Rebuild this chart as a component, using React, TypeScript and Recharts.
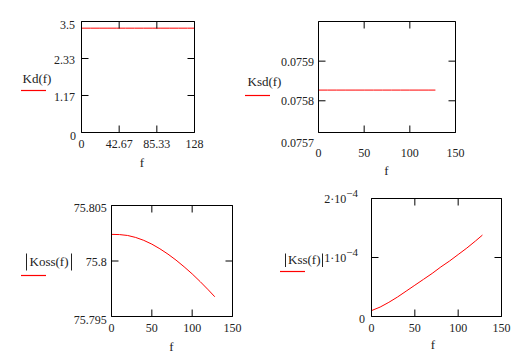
import React from "react";
import { LineChart, Line, XAxis, YAxis } from "recharts";

const W = 526;
const H = 353;
const FONT = '"Liberation Serif", "Times New Roman", serif';
const TEXT = "#222";
const RED = "#ff0000";

// f samples shared by all four plots
const freq = [0, 10, 20, 30, 40, 50, 60, 70, 80, 90, 100, 110, 120, 128];

const kdValues = [3.29, 3.29, 3.29, 3.29, 3.29, 3.29, 3.29, 3.29, 3.29, 3.29, 3.29, 3.29, 3.29, 3.29];
const ksdValues = [
  0.075827, 0.075827, 0.075827, 0.075827, 0.075827, 0.075827, 0.075827,
  0.075827, 0.075827, 0.075827, 0.075827, 0.075827, 0.075827, 0.075827,
];
const kossValues = [
  75.8024, 75.80238, 75.8023, 75.80212, 75.80186, 75.80152, 75.8011,
  75.80062, 75.80008, 75.79948, 75.79884, 75.79814, 75.7974, 75.79678,
];
const kssValues = [
  0.1e-4, 0.16e-4, 0.24e-4, 0.33e-4, 0.43e-4, 0.53e-4, 0.63e-4,
  0.73e-4, 0.84e-4, 0.94e-4, 1.05e-4, 1.16e-4, 1.28e-4, 1.38e-4,
];

const kdXTicks = [0, 42.67, 85.33, 128];
const kdXLabels = ["0", "42.67", "85.33", "128"];
const kdYTicks = [0, 1.1667, 2.3333, 3.5];
const kdYLabels = ["0", "1.17", "2.33", "3.5"];

const fTicks = [0, 50, 100, 150];
const fLabels = ["0", "50", "100", "150"];

const ksdYTicks = [0.07572, 0.0758, 0.0759];
const ksdYLabels = ["0.0757", "0.0758", "0.0759"];

const kossYTicks = [75.795, 75.8, 75.805];
const kossYLabels = ["75.795", "75.8", "75.805"];

const kssYTicks = [0, 1e-4, 2e-4];
const kssYLabels = ["0", "1·10", "2·10"];
const kssYSup = ["", "−4", "−4"];

const EmptyTick = () => <g />;

function Panel(p: any) {
  const data = freq.map((f, i) => ({ f, v: p.values[i] }));
  const xTick = (props: any) => {
    const i = p.xTicks.indexOf(props.payload.value);
    return (
      <text x={props.x} y={props.y + p.xDy} textAnchor="middle" fontFamily={FONT} fontSize={12} fill={TEXT}>
        {p.xLabels[i]}
      </text>
    );
  };
  const yTick = (props: any) => {
    const i = p.yTicks.indexOf(props.payload.value);
    const sup = p.ySup ? p.ySup[i] : "";
    return (
      <text
        x={props.x - p.yGap[i]}
        y={props.y + p.yDy[i]}
        textAnchor="end"
        fontFamily={FONT}
        fontSize={12}
        fill={TEXT}
      >
        {p.yLabels[i]}
        {sup ? (
          <tspan dy={-6} fontSize={11}>
            {sup}
          </tspan>
        ) : null}
      </text>
    );
  };
  return (
    <div style={{ position: "absolute", left: 0, top: 0 }}>
      <LineChart
        width={W}
        height={H}
        data={data}
        margin={{ left: p.l - 1, top: p.t - 1, right: W - p.r - 1, bottom: H - p.b - 1 }}
      >
        <XAxis
          xAxisId="b"
          dataKey="f"
          type="number"
          domain={p.xDomain}
          ticks={p.xTicks}
          interval={0}
          height={1}
          stroke="#000"
          tickSize={-7}
          tickMargin={7}
          tick={xTick}
        />
        <XAxis
          xAxisId="t"
          orientation="top"
          dataKey="f"
          type="number"
          domain={p.xDomain}
          ticks={p.xTicks}
          interval={0}
          height={1}
          stroke="#000"
          tickSize={-7}
          tick={EmptyTick}
        />
        <YAxis
          yAxisId="l"
          type="number"
          domain={p.yDomain}
          ticks={p.yTicks}
          interval={0}
          width={1}
          stroke="#000"
          tickSize={-7}
          tickMargin={7}
          tick={yTick}
        />
        <YAxis
          yAxisId="r"
          orientation="right"
          type="number"
          domain={p.yDomain}
          ticks={p.yTicks}
          interval={0}
          width={1}
          stroke="#000"
          tickSize={-7}
          tick={EmptyTick}
        />
        <Line xAxisId="t" yAxisId="r" dataKey="v" stroke="none" dot={false} isAnimationActive={false} />
        <Line
          xAxisId="b"
          yAxisId="l"
          dataKey="v"
          type="linear"
          stroke={RED}
          strokeWidth={1}
          dot={false}
          isAnimationActive={false}
        />
      </LineChart>
    </div>
  );
}

export default function App() {
  return (
    <div style={{ position: "absolute", left: 0, top: 0, width: W, height: H, background: "#fff" }}>
      <Panel
        l={81.5} t={21.5} r={194.5} b={132.5}
        values={kdValues}
        xDomain={[0, 128]} xTicks={kdXTicks} xLabels={kdXLabels} xDy={15.5}
        yDomain={[0, 3.5]} yTicks={kdYTicks} yLabels={kdYLabels}
        yGap={[5.5, 6.5, 6.5, 6.5]} yDy={[7, 5.5, 5, 7]}
      />
      <Panel
        l={318.5} t={21.5} r={455.5} b={132.5}
        values={ksdValues}
        xDomain={[0, 150]} xTicks={fTicks} xLabels={fLabels} xDy={24}
        yDomain={[0.07572, 0.076]} yTicks={ksdYTicks} yLabels={ksdYLabels}
        yGap={[4.5, 4.5, 4.5]} yDy={[14.8, 4.6, 4.6]}
      />
      <Panel
        l={111.5} t={205.5} r={232.5} b={316.5}
        values={kossValues}
        xDomain={[0, 150]} xTicks={fTicks} xLabels={fLabels} xDy={15}
        yDomain={[75.795, 75.805]} yTicks={kossYTicks} yLabels={kossYLabels}
        yGap={[4.8, 4.8, 4.8]} yDy={[7, 4.5, 6.5]}
      />
      <Panel
        l={371.5} t={198.5} r={501.5} b={316.5}
        values={kssValues}
        xDomain={[0, 150]} xTicks={fTicks} xLabels={fLabels} xDy={15}
        yDomain={[0, 2e-4]} yTicks={kssYTicks} yLabels={kssYLabels} ySup={kssYSup}
        yGap={[6.5, 13.5, 13.5]} yDy={[6.2, 4.5, 4]}
      />
      <svg width={W} height={H} style={{ position: "absolute", left: 0, top: 0 }}>
        <g fontFamily={FONT} fontSize={13} fill={TEXT}>
          <text x={22.5} y={83}>Kd(f)</text>
          <text x={247.5} y={85.5}>Ksd(f)</text>
          <text x={29.5} y={266}>Koss(f)</text>
          <text x={288} y={264}>Kss(f)</text>
          <text x={142} y={166.5} textAnchor="middle">f</text>
          <text x={386.5} y={175} textAnchor="middle">f</text>
          <text x={171.5} y={351} textAnchor="middle">f</text>
          <text x={433} y={348.5} textAnchor="middle">f</text>
        </g>
        <g stroke={TEXT} strokeWidth={1}>
          <line x1={26.5} x2={26.5} y1={253.5} y2={270.5} />
          <line x1={71.5} x2={71.5} y1={253.5} y2={270.5} />
          <line x1={285.5} x2={285.5} y1={253.5} y2={267} />
          <line x1={322.5} x2={322.5} y1={253.5} y2={267} />
        </g>
        <g stroke={RED} strokeWidth={1.2}>
          <line x1={21} x2={46} y1={90.5} y2={90.5} />
          <line x1={245} x2={270} y1={95.5} y2={95.5} />
          <line x1={21} x2={46} y1={275.5} y2={275.5} />
          <line x1={280} x2={305} y1={271.5} y2={271.5} />
        </g>
      </svg>
    </div>
  );
}
